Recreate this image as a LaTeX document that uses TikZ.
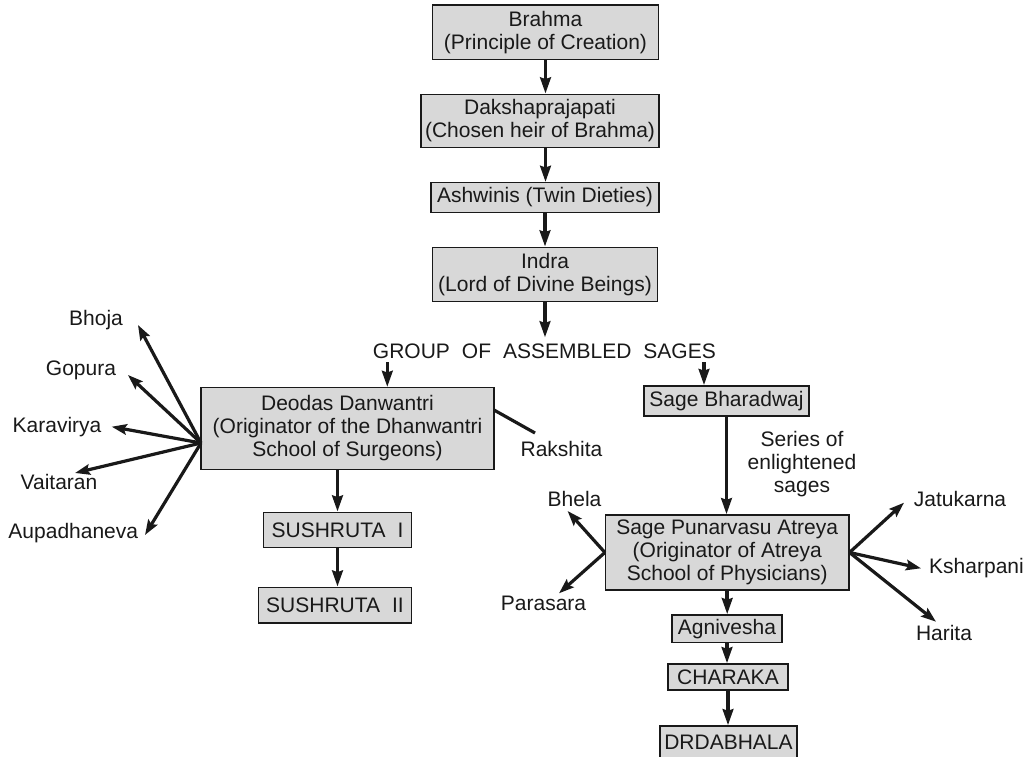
\documentclass[tikz,border=0pt]{standalone}
\usepackage{fontspec}
\setmainfont{Liberation Sans}
\usetikzlibrary{arrows.meta}
\definecolor{boxgray}{RGB}{216,216,216}
\definecolor{ink}{RGB}{25,25,25}
\newcommand{\lblfont}{\fontsize{21pt}{23pt}\selectfont}
\newcommand{\wgap}{\hspace{0.57em}}
\begin{document}
\begin{tikzpicture}[x=1pt,y=-1pt,
  box/.style={draw=ink, line width=1.4pt, fill=boxgray, inner sep=0pt,
              align=center, font=\lblfont, text=ink},
  lbl/.style={font=\lblfont, text=ink, inner sep=0pt, align=center},
  arr/.style={draw=ink, line width=3.6pt, -{Stealth[length=16pt,width=10.5pt,inset=1.5pt]}},
  fan/.style={draw=ink, line width=3.2pt, -{Stealth[length=15pt,width=10.5pt,inset=2.5pt]}},
  plain/.style={draw=ink, line width=3.2pt}]
\useasboundingbox (0,0) rectangle (1034,757);

% main lineage
\node[box, minimum width=225.5pt, minimum height=54.5pt] (brahma) at (545.5,32.3)
  {Brahma\\(Principle of Creation)};
\node[box, minimum width=238pt, minimum height=53.4pt] (daksha) at (540,121)
  {Dakshaprajapati\\(Chosen heir of Brahma)};
\node[box, minimum width=228pt, minimum height=29.6pt] (ashwinis) at (545,197.5)
  {Ashwinis (Twin Dieties)};
\node[box, minimum width=225.4pt, minimum height=54.4pt] (indra) at (545,274.5)
  {Indra\\(Lord of Divine Beings)};
\node[lbl, inner ysep=6pt, anchor=base] (group) at (544.4,358.3)
  {GROUP\wgap OF\wgap ASSEMBLED\wgap SAGES};

\draw[arr] (brahma.south) -- (brahma.south |- daksha.north);
\draw[arr] (daksha.south -| brahma.south) -- (brahma.south |- ashwinis.north);
\draw[arr] (ashwinis.south) -- (ashwinis.south |- indra.north);
\draw[arr] (indra.south) -- (indra.south |- group.north);

% Dhanwantri branch
\node[box, minimum width=293pt, minimum height=81.6pt] (deodas) at (347.5,428.5)
  {Deodas Danwantri\\(Originator of the Dhanwantri\\School of Surgeons)};
\node[box, minimum width=148.4pt, minimum height=35.4pt] (sush1) at (337.5,530)
  {SUSHRUTA\wgap I};
\node[box, minimum width=153.4pt, minimum height=35.7pt] (sush2) at (335,605.2)
  {SUSHRUTA\wgap II};

\coordinate (gl) at (387.3,362);
\draw[arr] (gl) -- (gl |- deodas.north);
\draw[arr] (sush1.north |- deodas.south) -- (sush1.north);
\draw[arr] (sush1.south) -- (sush1.south |- sush2.north);

\node[lbl] (bhoja) at (96,320) {Bhoja};
\node[lbl] (gopura) at (81,370) {Gopura};
\node[lbl] (karavirya) at (57,427) {Karavirya};
\node[lbl] (vaitaran) at (59,481.7) {Vaitaran};
\node[lbl] (aupadhaneva) at (73.3,533.3) {Aupadhaneva};
\node[lbl] (rakshita) at (561.5,449.3) {Rakshita};

\coordinate (dfan) at (201,443);
\coordinate (tbhoja) at (138,325);
\coordinate (tgopura) at (128,375);
\coordinate (tkara) at (111.7,426.7);
\coordinate (tvait) at (75,473);
\coordinate (taupa) at (145,535);
\draw[fan] (dfan) -- (tbhoja);
\draw[fan] (dfan) -- (tgopura);
\draw[fan] (dfan) -- (tkara);
\draw[fan] (dfan) -- (tvait);
\draw[fan] (dfan) -- (taupa);
\coordinate (rk0) at (494,410);
\coordinate (rk1) at (535,433);
\draw[plain] (rk0) -- (rk1);

% Atreya branch
\node[box, minimum width=165pt, minimum height=30.3pt] (bharadwaj) at (726.5,401)
  {Sage Bharadwaj};
\node[lbl] (series) at (802,464.3) {Series of\\enlightened\\sages};
\node[box, minimum width=243.2pt, minimum height=75pt] (punarvasu) at (727.2,552.5)
  {Sage Punarvasu Atreya\\(Originator of Atreya\\School of Physicians)};
\node[box, minimum width=110pt, minimum height=27.7pt] (agnivesha) at (727,628.8)
  {Agnivesha};
\node[box, minimum width=120pt, minimum height=26pt] (charaka) at (728,677)
  {CHARAKA};
\node[box, minimum width=137pt, minimum height=32pt] (drdabhala) at (728.5,742)
  {DRDABHALA};

\coordinate (gr) at (704,362);
\draw[arr] (gr) -- (gr |- bharadwaj.north);
\draw[arr] (bharadwaj.south) -- (bharadwaj.south |- punarvasu.north);
\draw[arr] (punarvasu.south) -- (punarvasu.south |- agnivesha.north);
\draw[arr] (agnivesha.south) -- (agnivesha.south |- charaka.north);
\draw[arr] (charaka.south) -- (charaka.south |- drdabhala.north);

\node[lbl] (bhela) at (574.5,499.3) {Bhela};
\node[lbl] (parasara) at (543.5,603.3) {Parasara};
\node[lbl] (jatukarna) at (960,499.3) {Jatukarna};
\node[lbl] (ksharpani) at (976.5,568.3) {Ksharpani};
\node[lbl] (harita) at (944,633.3) {Harita};

\coordinate (tbhela) at (567.6,511);
\coordinate (tparasara) at (559,593.3);
\coordinate (tjatu) at (904,502.7);
\coordinate (tkshar) at (921,568.3);
\coordinate (tharita) at (936,621.7);
\draw[fan] (punarvasu.west) -- (tbhela);
\draw[fan] (punarvasu.west) -- (tparasara);
\draw[fan] (punarvasu.east) -- (tjatu);
\draw[fan] (punarvasu.east) -- (tkshar);
\draw[fan] (punarvasu.east) -- (tharita);
\end{tikzpicture}
\end{document}
